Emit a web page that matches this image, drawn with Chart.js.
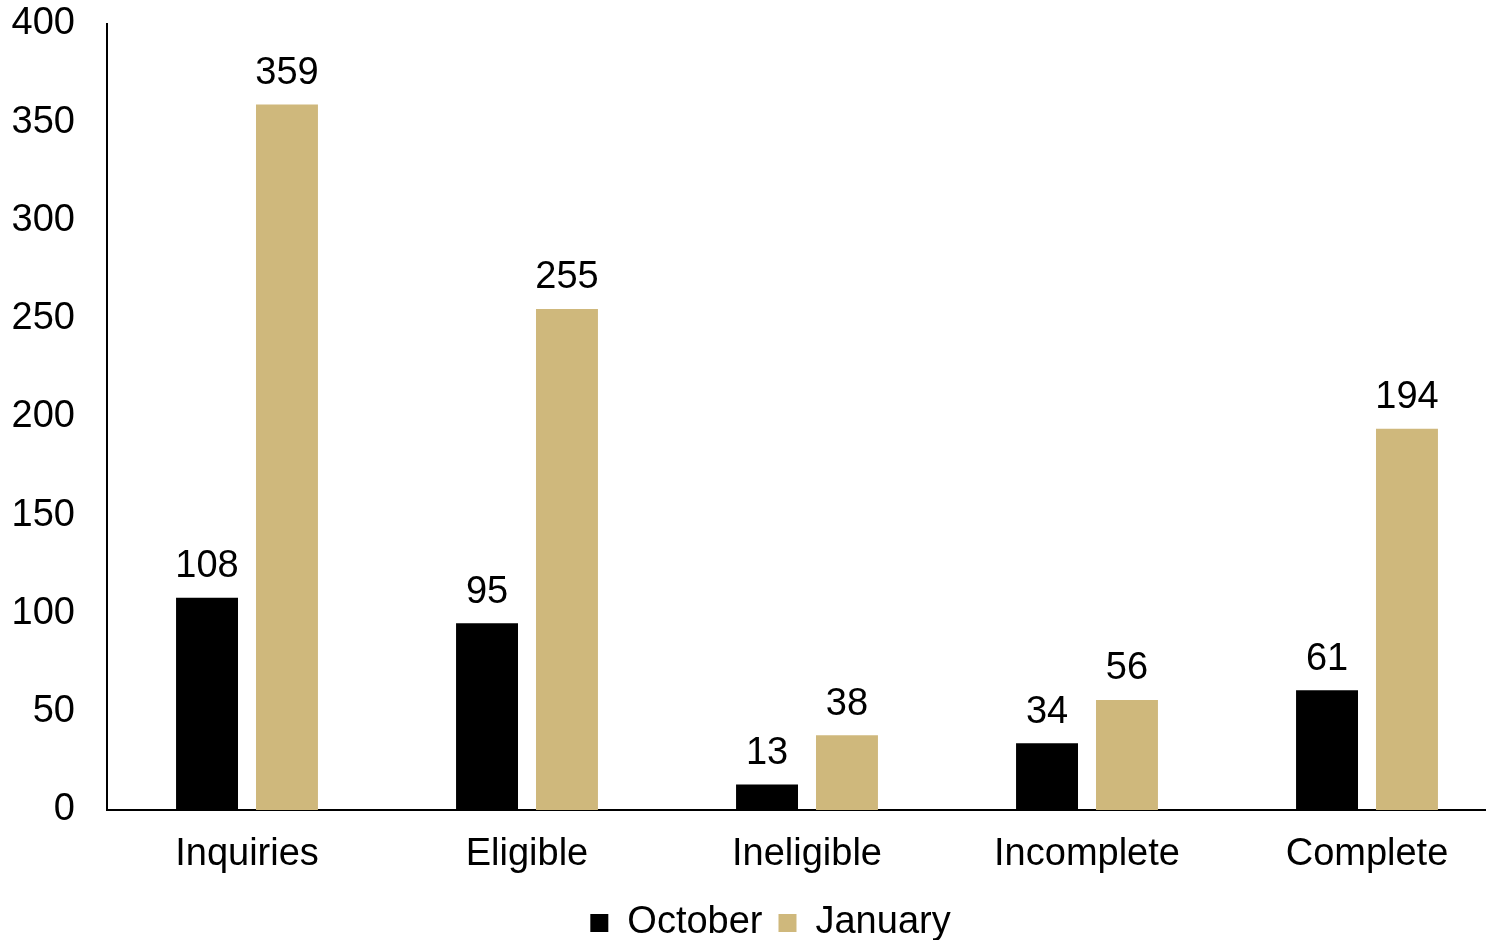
<!DOCTYPE html>
<html>
<head>
<meta charset="utf-8">
<title>October vs January</title>
<script src="https://cdn.jsdelivr.net/npm/chart.js@4.4.1/dist/chart.umd.min.js"></script>
<style>
    html, body { margin: 0; padding: 0; background: #fff; overflow: hidden; }
    #canvas_container { width: 1486px; height: 940px; overflow: hidden; }
    #graph { display: block; }
</style>
</head>
<body>
<div id="canvas_container">
    <!-- plot runs a little past the right edge, the container clips it -->
    <canvas id="graph" width="1507" height="940"></canvas>
</div>
<script>
// counts per stage, two months side by side
const categories = ['Inquiries', 'Eligible', 'Ineligible', 'Incomplete', 'Complete'];
const october = [108, 95, 13, 34, 61];
const january = [359, 255, 38, 56, 194];
const yTicks = [0, 50, 100, 150, 200, 250, 300, 350, 400];

const fontFamily = '"Liberation Sans", Arial, sans-serif';
const fontSize = 38;

// writes each bar's value just above it
const valueLabels = {
    id: 'valueLabels',
    afterDatasetsDraw(chart) {
        const ctx = chart.ctx;
        ctx.save();
        ctx.font = fontSize + 'px ' + fontFamily;
        ctx.fillStyle = '#000';
        ctx.textAlign = 'center';
        ctx.textBaseline = 'bottom';
        chart.data.datasets.forEach(function(ds, i) {
            chart.getDatasetMeta(i).data.forEach(function(bar, j) {
                ctx.fillText(String(ds.data[j]), bar.x, bar.y - 12);
            });
        });
        ctx.restore();
    }
};

// move the legend row a bit right and down
const legendShift = {
    id: 'legendShift',
    afterLayout(chart) {
        const lg = chart.legend;
        if (lg) {
            lg.left += 17;
            lg.right += 17;
            lg.top += 8;
            lg.bottom += 8;
        }
    }
};

Chart.defaults.font.family = fontFamily;
Chart.defaults.font.size = fontSize;
Chart.defaults.color = '#000';

new Chart(document.getElementById('graph'), {
    type: 'bar',
    data: {
        labels: categories,
        datasets: [{
            label: 'October',
            data: october,
            backgroundColor: '#000000',
            borderWidth: 0
        }, {
            label: 'January',
            data: january,
            backgroundColor: '#CFB87C',
            borderWidth: 0
        }]
    },
    options: {
        responsive: false,
        animation: false,
        categoryPercentage: 0.571,
        barPercentage: 0.775,
        layout: {
            padding: { top: 0, right: 0, bottom: -4, left: 0 }
        },
        plugins: {
            legend: {
                position: 'bottom',
                labels: {
                    boxWidth: 18,
                    boxHeight: 18,
                    padding: 16,
                    color: '#000',
                    font: { size: fontSize }
                }
            },
            tooltip: { enabled: false }
        },
        scales: {
            x: {
                grid: { display: false, drawTicks: false },
                border: { display: true, color: '#000', width: 2 },
                ticks: { padding: 22 },
                afterFit: function(scale) { scale.height = 70; }
            },
            y: {
                min: 0,
                max: 400,
                afterBuildTicks: function(scale) {
                    scale.ticks = yTicks.map(function(v) { return { value: v }; });
                },
                grid: { display: false, drawTicks: false },
                border: { display: true, color: '#000', width: 2 },
                ticks: { padding: 32 },
                afterFit: function(scale) {
                    scale.width = 107;
                    scale.paddingTop = 24;
                    scale.paddingBottom = 0;
                }
            }
        }
    },
    plugins: [valueLabels, legendShift]
});
</script>
</body>
</html>
